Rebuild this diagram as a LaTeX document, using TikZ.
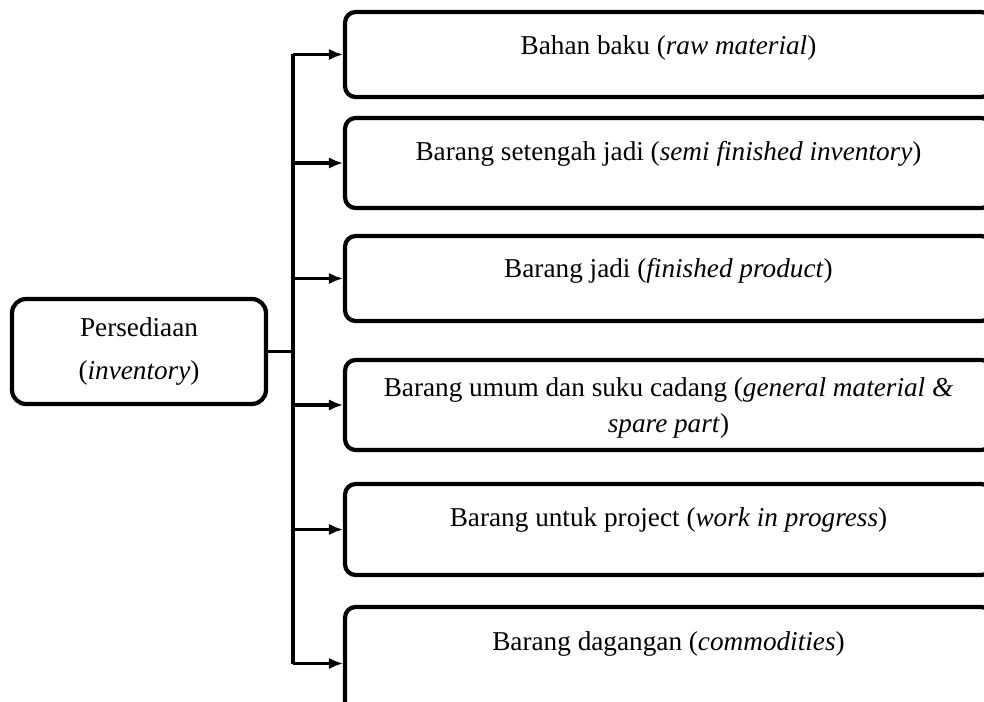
\documentclass[tikz,border=0pt]{standalone}
\usepackage{fontspec}
\setmainfont{Liberation Serif}
\usetikzlibrary{arrows.meta, positioning}
\tikzset{
	catbox/.style={draw, line width=2.4pt, rounded corners=6pt, minimum width=12.94cm, inner sep=0pt},
	catlabel/.style={font=\fontsize{15.5}{20}\selectfont, align=center, inner sep=0pt},
	trunkline/.style={line width=2pt},
	trunkarr/.style={-{Latex[length=8pt, width=6.5pt]}, line width=2pt},
}

\begin{document}
\begin{tikzpicture}[
		x=0.02cm, y=-0.02cm,
		rootbox/.style={draw, line width=2.4pt, rounded corners=8pt, minimum width=5.08cm, minimum height=2.1cm, align=center, font=\fontsize{15.5}{24}\selectfont},
	]
	\useasboundingbox (0,0) rectangle (984,702);
	\fill[white] (0,0) rectangle (984,702);
	\clip (0,0) rectangle (984,702);

	% Root
	\node[rootbox] (inv) at (139,351.5) {Persediaan\\(\textit{inventory})};

	% Categories
	\node[catbox, minimum height=1.7cm] (raw) at (668.5,54.5) {};
	\node[catlabel] at ([yshift=-0.76cm]raw.north) {Bahan baku (\textit{raw material})};

	\node[catbox, minimum height=1.8cm] (semi) at (668.5,163) {};
	\node[catlabel] at ([yshift=-0.76cm]semi.north) {Barang setengah jadi (\textit{semi finished inventory})};

	\node[catbox, minimum height=1.7cm] (fin) at (668.5,278.5) {};
	\node[catlabel] at ([yshift=-0.74cm]fin.north) {Barang jadi (\textit{finished product})};

	\node[catbox, minimum height=1.8cm] (gen) at (668.5,405) {};
	\node[catlabel] at ([yshift=-1.0cm]gen.north) {Barang umum dan suku cadang (\textit{general material \&}\\\textit{spare part})};

	\node[catbox, minimum height=1.82cm] (wip) at (668.5,529.5) {};
	\node[catlabel] at ([yshift=-0.76cm]wip.north) {Barang untuk project (\textit{work in progress})};

	\node[catbox, minimum height=2.26cm] (com) at (668.5,663.5) {};
	\node[catlabel] at ([yshift=-0.78cm]com.north) {Barang dagangan (\textit{commodities})};

	% Trunk
	\coordinate (ttop) at (293,54.5);
	\coordinate (tbot) at (293,663.5);
	\draw[trunkline] (ttop) -- (tbot);
	\draw[trunkline] (inv.east) -- (inv.east -| ttop);

	% Branches
	\draw[trunkarr] (raw.west -| ttop) -- (raw.west);
	\draw[trunkarr] (semi.west -| ttop) -- (semi.west);
	\draw[trunkarr] (fin.west -| ttop) -- (fin.west);
	\draw[trunkarr] (gen.west -| ttop) -- (gen.west);
	\draw[trunkarr] (wip.west -| ttop) -- (wip.west);
	\draw[trunkarr] (com.west -| ttop) -- (com.west);
\end{tikzpicture}
\end{document}
